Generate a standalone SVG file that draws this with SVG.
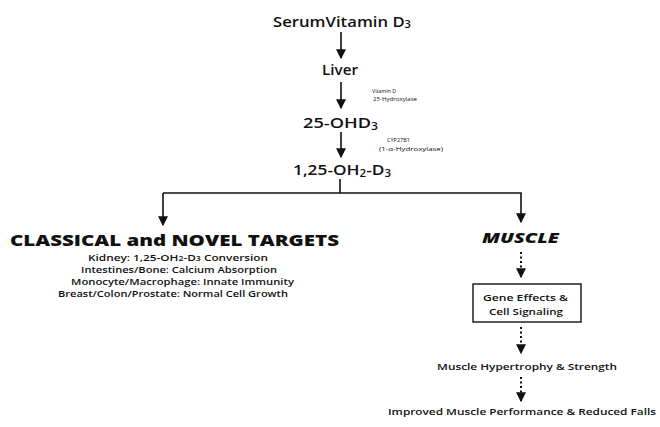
<svg xmlns="http://www.w3.org/2000/svg" width="660" height="427" viewBox="0 0 660 427">
<style>
text{font-family:"Open Sans",Lato,"Liberation Sans",sans-serif;fill:#111}
.main{font-size:15px;font-weight:600}
.small{font-size:5.5px}
.head{font-size:16px;font-weight:800}
.item{font-size:9.5px;font-weight:600}
.mus{font-size:13.5px;font-weight:800;font-style:italic}
.line{stroke:#111;stroke-width:1.6;fill:none}
.dot{stroke:#111;stroke-width:2;fill:none;stroke-dasharray:2 2.5}
.box{stroke:#111;stroke-width:1.4;fill:#fff}
</style>
<defs>
<marker id="ah" markerWidth="10" markerHeight="10" refX="7" refY="4" orient="auto" markerUnits="userSpaceOnUse" viewBox="0 0 8 8">
<path d="M0,0 L8,4 L0,8 Z" fill="#111"/>
</marker>
</defs>
<rect width="660" height="427" fill="#fff"/>
<g id="connectors">
<line class="line" x1="341" y1="32" x2="341" y2="58" marker-end="url(#ah)"/>
<line class="line" x1="341" y1="82" x2="341" y2="108" marker-end="url(#ah)"/>
<line class="line" x1="341" y1="132" x2="341" y2="157" marker-end="url(#ah)"/>
<polyline class="line" points="340,179 340,193"/>
<polyline class="line" points="163,193 521,193 521,222" marker-end="url(#ah)"/>
<line class="line" x1="163" y1="193" x2="163" y2="225" marker-end="url(#ah)"/>
<line class="dot" x1="521" y1="252" x2="521" y2="277" marker-end="url(#ah)"/>
<line class="dot" x1="521" y1="327" x2="521" y2="353" marker-end="url(#ah)"/>
<line class="dot" x1="521" y1="377" x2="521" y2="401" marker-end="url(#ah)"/>
<text class="small" x="372" y="93" textLength="24" lengthAdjust="spacingAndGlyphs">Vitamin D</text>
<text class="small" x="373" y="101" textLength="44" lengthAdjust="spacingAndGlyphs">25-Hydroxylase</text>
<text class="small" x="387" y="142" textLength="23" lengthAdjust="spacingAndGlyphs">CYP27B1</text>
<text class="small" x="379" y="150.5" textLength="64" lengthAdjust="spacingAndGlyphs">(1-α-Hydroxylase)</text>
</g>
<g id="serum"><text class="main" x="273" y="26.5" textLength="138" lengthAdjust="spacingAndGlyphs">SerumVitamin D<tspan font-size="10" dy="1.5">3</tspan></text></g>
<g id="liver"><text class="main" x="322" y="75" textLength="36" lengthAdjust="spacingAndGlyphs">Liver</text></g>
<g id="ohd3"><text class="main" x="303" y="128" textLength="75" lengthAdjust="spacingAndGlyphs">25-OHD<tspan font-size="10" dy="1.5">3</tspan></text></g>
<g id="oh2d3"><text class="main" x="293" y="175" textLength="98" lengthAdjust="spacingAndGlyphs">1,25-OH<tspan font-size="10" dy="1.5">2</tspan><tspan dy="-1.5">-D</tspan><tspan font-size="10" dy="1.5">3</tspan></text></g>
<g id="targets">
<text class="head" x="10" y="246" textLength="329" lengthAdjust="spacingAndGlyphs">CLASSICAL and NOVEL TARGETS</text>
<text class="item" x="88" y="261" textLength="180" lengthAdjust="spacingAndGlyphs">Kidney: 1,25-OH<tspan font-size="7">2</tspan>-D<tspan font-size="7">3</tspan> Conversion</text>
<text class="item" x="81" y="272.5" textLength="196" lengthAdjust="spacingAndGlyphs">Intestines/Bone: Calcium Absorption</text>
<text class="item" x="71" y="284.5" textLength="223" lengthAdjust="spacingAndGlyphs">Monocyte/Macrophage: Innate Immunity</text>
<text class="item" x="58" y="297" textLength="230" lengthAdjust="spacingAndGlyphs">Breast/Colon/Prostate: Normal Cell Growth</text>
</g>
<g id="muscle"><text class="mus" x="482" y="243" textLength="77" lengthAdjust="spacingAndGlyphs">MUSCLE</text></g>
<g id="gene">
<rect class="box" x="473" y="284" width="108" height="38"/>
<text class="item" x="483" y="301" textLength="85" lengthAdjust="spacingAndGlyphs">Gene Effects &amp;</text>
<text class="item" x="489" y="315" textLength="74" lengthAdjust="spacingAndGlyphs">Cell Signaling</text>
</g>
<g id="hyper"><text class="item" x="437" y="370" textLength="180" lengthAdjust="spacingAndGlyphs">Muscle Hypertrophy &amp; Strength</text></g>
<g id="improved"><text class="item" x="388" y="415" textLength="268" lengthAdjust="spacingAndGlyphs">Improved Muscle Performance &amp; Reduced Falls</text></g>
</svg>
